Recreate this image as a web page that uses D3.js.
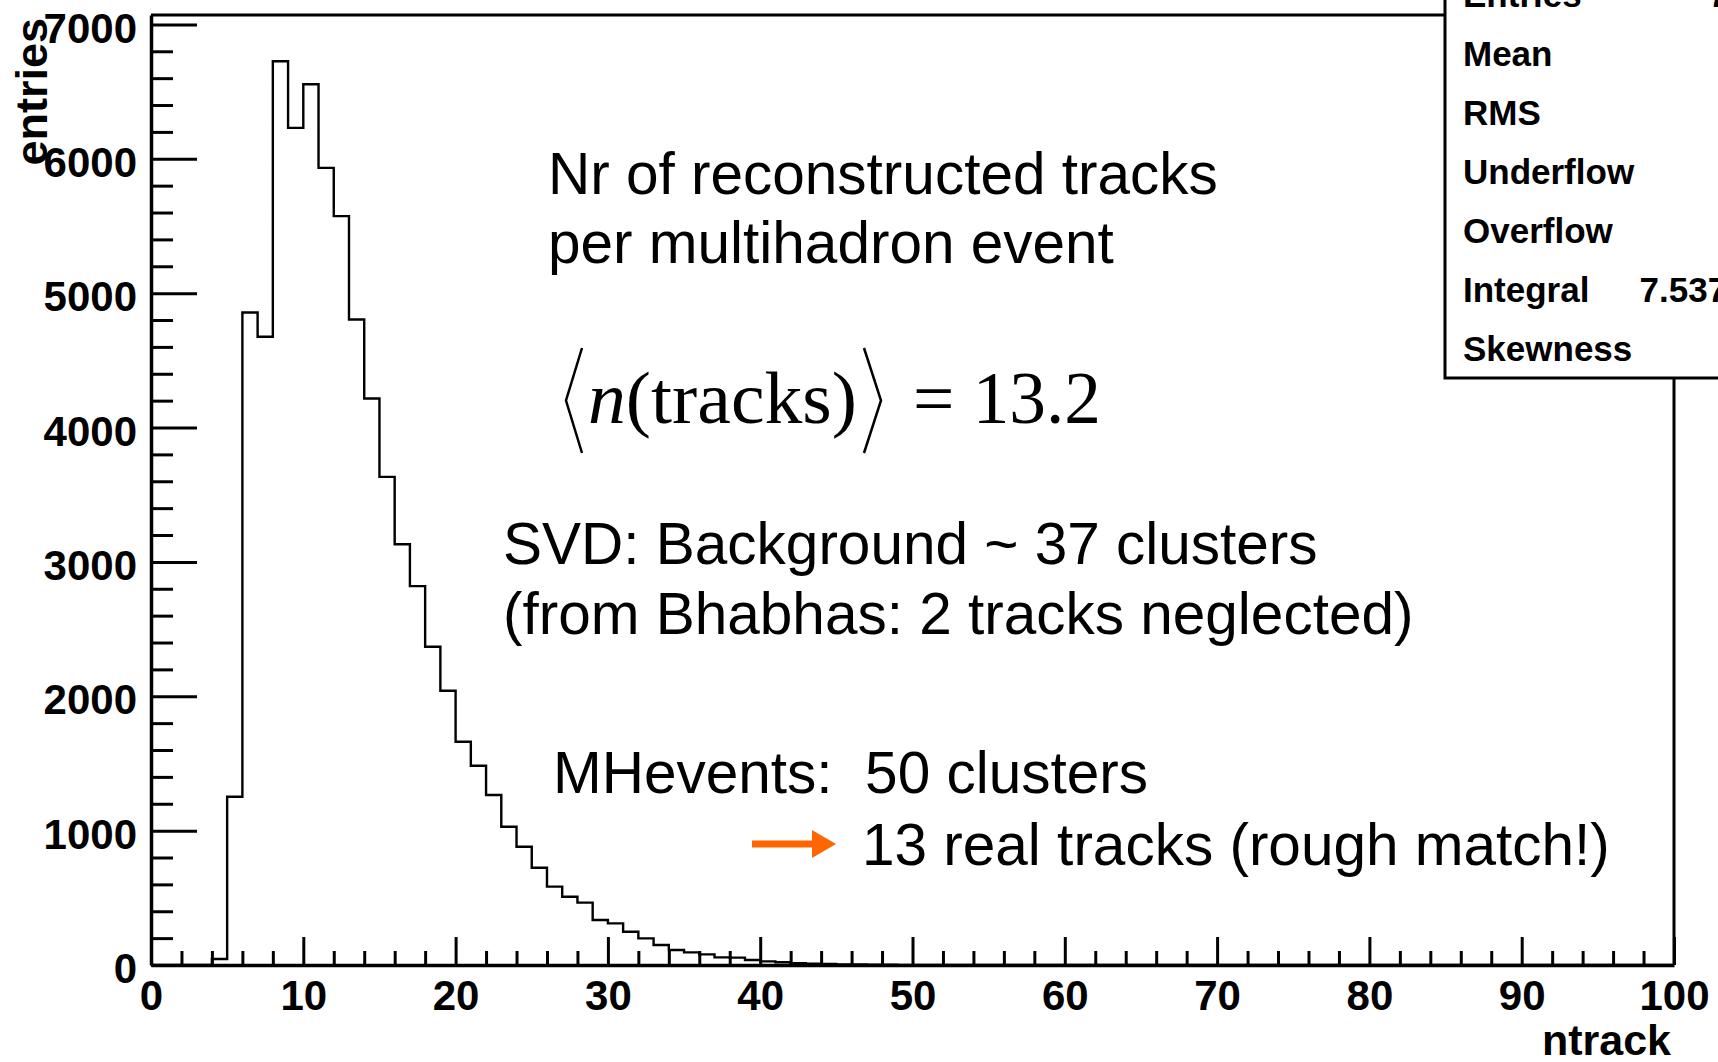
<!DOCTYPE html>
<html>
<head>
<meta charset="utf-8">
<script src="https://cdn.jsdelivr.net/npm/d3@7"></script>
<style>
  html, body { margin: 0; padding: 0; background: #fff; overflow: hidden; }
  svg { display: block; }
  .bold { font-family: "Liberation Sans", Arial, Helvetica, sans-serif; font-weight: bold; }
  .note { font-family: "Liberation Sans", Arial, Helvetica, sans-serif; font-size: 58.5px; white-space: pre; }
</style>
</head>
<body>
<svg id="chart" width="1718" height="1062"></svg>
<script>
// Number of reconstructed tracks per event, one entry per unit-width bin 0..99
const counts = [
  0, 0, 0, 0, 45, 1252, 4856, 4675, 6726, 6230,
  6555, 5932, 5573, 4804, 4216, 3633, 3131, 2820, 2369, 2041,
  1662, 1483, 1265, 1029, 880, 724, 583, 508, 464, 335,
  310, 248, 198, 149, 112, 94, 79, 57, 55, 37,
  27, 20, 14, 10, 7, 5, 4, 3, 2, 1,
  0, 0, 0, 0, 0, 0, 0, 0, 0, 0,
  0, 0, 0, 0, 0, 0, 0, 0, 0, 0,
  0, 0, 0, 0, 0, 0, 0, 0, 0, 0,
  0, 0, 0, 0, 0, 0, 0, 0, 0, 0,
  0, 0, 0, 0, 0, 0, 0, 0, 0, 0
];
const xMajorTicks = [0, 10, 20, 30, 40, 50, 60, 70, 80, 90, 100];
const yMajorTicks = [0, 1000, 2000, 3000, 4000, 5000, 6000, 7000];
const xTitle = "ntrack";
const yTitle = "entries";

// Statistics box rows (values right-aligned, mostly running past the page edge)
const statLabels = ["Entries", "Mean", "RMS", "Underflow", "Overflow", "Integral", "Skewness"];
const statValues = ["75370", null, null, null, null, "7.537e+04", null];

// Annotation lines
const titleLines = ["Nr of reconstructed tracks", "per multihadron event"];
const svdLines = ["SVD: Background ~ 37 clusters", "(from Bhabhas: 2 tracks neglected)"];
const mhLine1 = "MHevents:  50 clusters";
const mhLine2 = "13 real tracks (rough match!)";
const meanTracks = "13.2";

const svg = d3.select("#chart");
svg.append("rect").attr("width", 1718).attr("height", 1062).attr("fill", "#fff");

const x = d3.scaleLinear().domain([0, 100]).range([151, 1674]);
const y = d3.scaleLinear().domain([0, 7070]).range([965, 15]);

const fontTick = 42;

// Minor ticks
const xMinor = d3.range(0, 101, 2).filter(v => v % 10 !== 0);
const yMinor = d3.range(0, 7001, 200).filter(v => v % 1000 !== 0);

const gx = svg.append("g").attr("transform", `translate(0,${y(0)})`);
gx.call(d3.axisBottom(x).tickValues(xMinor).tickSizeInner(-14).tickSizeOuter(0).tickFormat(""));
gx.call(g => g.selectAll(".domain").remove());
const gxM = svg.append("g").attr("transform", `translate(0,${y(0)})`)
  .call(d3.axisBottom(x).tickValues(xMajorTicks).tickSizeInner(-28).tickSizeOuter(0).tickPadding(15).tickFormat(d3.format("d")));

const gy = svg.append("g").attr("transform", `translate(${x(0)},0)`);
gy.call(d3.axisLeft(y).tickValues(yMinor).tickSizeInner(-22).tickSizeOuter(0).tickFormat(""));
gy.call(g => g.selectAll(".domain").remove());
const gyM = svg.append("g").attr("transform", `translate(${x(0)},0)`)
  .call(d3.axisLeft(y).tickValues(yMajorTicks).tickSizeInner(-46).tickSizeOuter(0).tickPadding(14).tickFormat(d3.format("d")));

[gx, gxM, gy, gyM].forEach(g => {
  g.selectAll(".tick line").attr("stroke", "#000").attr("stroke-width", 3);
  g.selectAll(".domain").attr("stroke", "#000").attr("stroke-width", 3.5);
  g.selectAll(".tick text")
    .attr("class", "bold")
    .attr("font-size", fontTick)
    .attr("fill", "#000");
});
gyM.selectAll(".tick text").attr("dy", "0.42em");

// Frame top and right edges
svg.append("line").attr("x1", x(0)).attr("x2", 1445).attr("y1", y(7070)).attr("y2", y(7070))
  .attr("stroke", "#000").attr("stroke-width", 3);
svg.append("line").attr("x1", x(100)).attr("x2", x(100)).attr("y1", 378).attr("y2", y(0))
  .attr("stroke", "#000").attr("stroke-width", 3);

// Histogram outline
const pts = counts.map((c, i) => [i, c]);
pts.push([counts.length, counts[counts.length - 1]]);
svg.append("path")
  .attr("d", d3.line().x(d => x(d[0])).y(d => y(d[1])).curve(d3.curveStepAfter)(pts))
  .attr("fill", "none").attr("stroke", "#000").attr("stroke-width", 2.4);

// Axis titles
svg.append("text").attr("class", "bold").attr("font-size", 43)
  .attr("x", 1671).attr("y", 1055).attr("text-anchor", "end").text(xTitle);
svg.append("text").attr("class", "bold").attr("font-size", 45)
  .attr("transform", "translate(47,18) rotate(-90)").attr("text-anchor", "end").text(yTitle);

// Statistics box
const stats = svg.append("g");
stats.append("rect").attr("x", 1445).attr("y", -60).attr("width", 420).attr("height", 438)
  .attr("fill", "#fff").attr("stroke", "#000").attr("stroke-width", 3);
const rowY = d3.scaleLinear().domain([0, statLabels.length - 1]).range([7, 361]);
statLabels.forEach((lab, i) => {
  stats.append("text").attr("class", "bold").attr("font-size", 35)
    .attr("x", 1463).attr("y", rowY(i)).text(lab);
  if (statValues[i] !== null) {
    stats.append("text").attr("class", "bold").attr("font-size", 35)
      .attr("x", 1806).attr("y", rowY(i)).attr("text-anchor", "end").text(statValues[i]);
  }
});

// Text annotations
titleLines.forEach((t, i) => svg.append("text").attr("class", "note").attr("x", 548).attr("y", 194 + i * 69).text(t));
svdLines.forEach((t, i) => svg.append("text").attr("class", "note").attr("x", 503).attr("y", 564 + i * 70).text(t));
svg.append("text").attr("class", "note").attr("x", 553).attr("y", 793).text(mhLine1);
svg.append("text").attr("class", "note").attr("x", 862).attr("y", 865).text(mhLine2);

// Orange arrow
svg.append("line").attr("x1", 752).attr("x2", 818).attr("y1", 844).attr("y2", 844)
  .attr("stroke", "#ff6600").attr("stroke-width", 7);
svg.append("path").attr("d", "M812,830 L836,844 L812,858 Z").attr("fill", "#ff6600");

// Mean multiplicity formula: <n(tracks)> = 13.2
const mathY = 423, mathX = 588, mathTop = 348, mathBot = 453;
const mathFont = "'Liberation Serif', 'Times New Roman', serif";
const inner = svg.append("text").attr("x", mathX).attr("y", mathY)
  .attr("font-family", mathFont).attr("font-size", 75)
  .attr("textLength", 269).attr("lengthAdjust", "spacingAndGlyphs");
inner.append("tspan").attr("font-style", "italic").text("n");
inner.append("tspan").text("(tracks)");
const bracket = (xs, xt) => `M${xs},${mathTop} L${xt},${(mathTop + mathBot) / 2} L${xs},${mathBot}`;
svg.append("path").attr("d", bracket(mathX - 6, mathX - 22))
  .attr("fill", "none").attr("stroke", "#000").attr("stroke-width", 2.5);
const rx = mathX + 269 + 7;
svg.append("path").attr("d", bracket(rx, rx + 17))
  .attr("fill", "none").attr("stroke", "#000").attr("stroke-width", 2.5);
svg.append("text").attr("x", 913).attr("y", mathY)
  .attr("font-family", mathFont).attr("font-size", 75).style("white-space", "pre")
  .attr("textLength", 188).attr("lengthAdjust", "spacingAndGlyphs")
  .text("= " + meanTracks);
</script>
</body>
</html>
